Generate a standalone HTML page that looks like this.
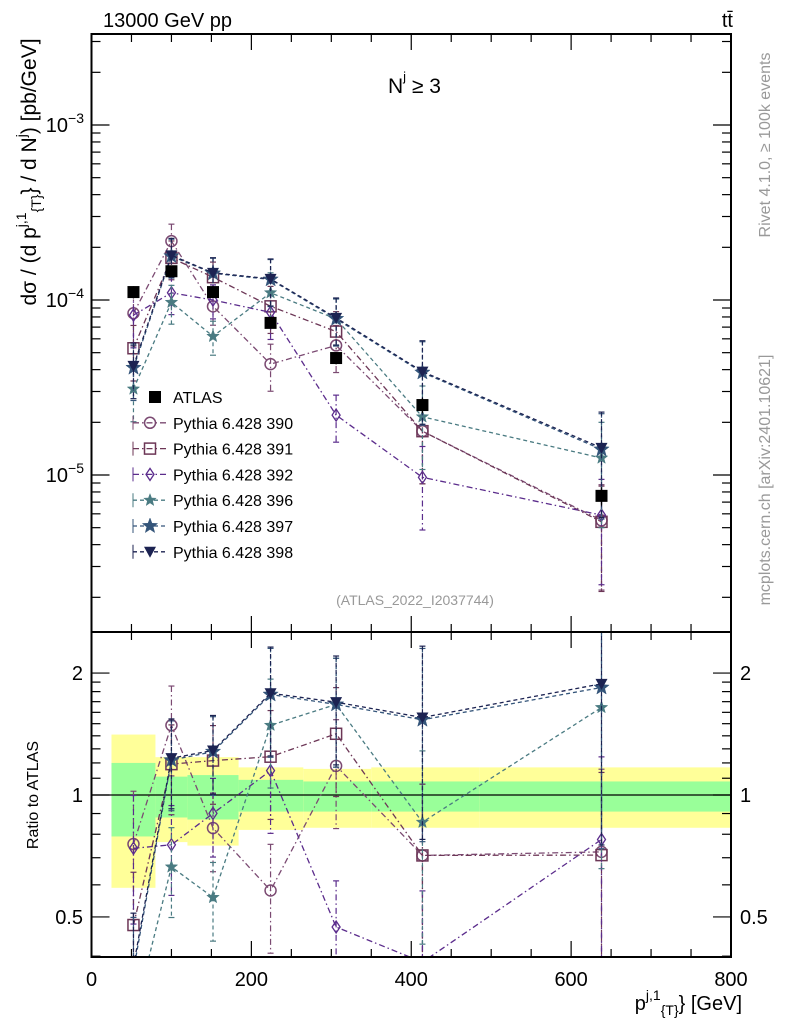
<!DOCTYPE html>
<html><head><meta charset="utf-8"><style>
html,body{margin:0;padding:0;background:#fff;width:786px;height:1024px;overflow:hidden}
svg{display:block;font-family:"Liberation Sans",sans-serif}
</style></head><body>
<svg id="c" width="786" height="1024" viewBox="0 0 786 1024" xmlns="http://www.w3.org/2000/svg"></svg>
<script>
const xCenters=[52.5,100,152,224,306,414,638];
const atlasVals=[1.11e-4,1.46e-4,1.11e-4,7.4e-5,4.66e-5,2.51e-5,7.6e-6];
const atlasErr=[0.08,0.06,0.06,0.07,0.08,0.1,0.12];
const s390=[8.4e-5,2.17e-4,9.2e-5,4.3e-5,5.5e-5,1.78e-5,5.5e-6];
const s391=[5.3e-5,1.74e-4,1.35e-4,9.2e-5,6.6e-5,1.78e-5,5.4e-6];
const s392=[8.2e-5,1.10e-4,1.0e-4,8.5e-5,2.2e-5,9.7e-6,5.9e-6];
const s396=[3.1e-5,9.7e-5,6.2e-5,1.10e-4,7.8e-5,2.15e-5,1.25e-5];
const s397=[4.1e-5,1.78e-4,1.42e-4,1.31e-4,7.8e-5,3.85e-5,1.4e-5];
const s398=[4.2e-5,1.8e-4,1.43e-4,1.32e-4,7.9e-5,3.9e-5,1.43e-5];
const mcErr=[0.35,0.25,0.22,0.3,0.3,0.5,0.6];
const bandEdges=[25,80,120,184,265,350,485,800];
const bandYelHi=[1.41,1.24,1.24,1.17,1.16,1.17,1.17];
const bandYelLo=[0.59,0.765,0.75,0.82,0.83,0.83,0.83];
const bandGrnHi=[1.2,1.11,1.12,1.09,1.08,1.08,1.08];
const bandGrnLo=[0.79,0.88,0.87,0.91,0.91,0.91,0.91];
const xTicks=[0,200,400,600,800];

const NS="http://www.w3.org/2000/svg";
const svg=document.getElementById('c');
const L=91.5,R=731,T=34,MB=632,RB=957;
const X=v=>L+(R-L)*v/800;
const Ym=v=>300-175*(Math.log10(v)+4);
const Yr=r=>795-405*Math.log10(r);
function mk(tag,attrs,parent){const e=document.createElementNS(NS,tag);for(const k in attrs)e.setAttribute(k,attrs[k]);(parent||svg).appendChild(e);return e;}
function txt(s,x,y,attrs,parent){const e=mk('text',Object.assign({x:x,y:y,'font-size':18,fill:'#000'},attrs),parent);e.textContent=s;return e;}

const defs=mk('defs',{});
const cp1=mk('clipPath',{id:'cm'},defs);mk('rect',{x:L,y:T,width:R-L,height:MB-T},cp1);
const cp2=mk('clipPath',{id:'cr'},defs);mk('rect',{x:L,y:MB,width:R-L,height:RB-MB},cp2);

const bands=mk('g',{'clip-path':'url(#cr)'});

for(let i=0;i<bandYelHi.length;i++){
  const x0=X(bandEdges[i]),x1=X(bandEdges[i+1]);
  const y=mk('rect',{x:x0,y:Yr(bandYelHi[i]),width:x1-x0,height:Yr(bandYelLo[i])-Yr(bandYelHi[i]),fill:'#ffff99'},bands);
  
  const g=mk('rect',{x:x0,y:Yr(bandGrnHi[i]),width:x1-x0,height:Yr(bandGrnLo[i])-Yr(bandGrnHi[i]),fill:'#99ff99'},bands);
  
}
mk('line',{x1:L,x2:R,y1:Yr(1),y2:Yr(1),stroke:'#000','stroke-width':1.2});

const series=[
 {name:'Pythia 6.428 390',vals:s390,col:'#7b4a72',dash:'6,3,1.5,3',m:'circle'},
 {name:'Pythia 6.428 391',vals:s391,col:'#6c3656',dash:'6,3,1.5,3',m:'square'},
 {name:'Pythia 6.428 392',vals:s392,col:'#5b2c8c',dash:'6,3,1.5,3',m:'diamond'},
 {name:'Pythia 6.428 396',vals:s396,col:'#4a7b82',dash:'4,3',m:'star'},
 {name:'Pythia 6.428 397',vals:s397,col:'#34557a',dash:'4,3',m:'staro'},
 {name:'Pythia 6.428 398',vals:s398,col:'#1c2352',dash:'4,3',m:'tri'}
];
function starPts(cx,cy,r){let p=[];for(let k=0;k<10;k++){const a=-Math.PI/2+k*Math.PI/5;const rr=k%2?r*0.42:r;p.push((cx+rr*Math.cos(a)).toFixed(1)+','+(cy+rr*Math.sin(a)).toFixed(1));}return p.join(' ');}
function marker(m,cx,cy,col,g){
  let e;
  if(m==='circle')e=mk('circle',{cx:cx,cy:cy,r:5.5,fill:'#fff','fill-opacity':0,stroke:col,'stroke-width':1.5},g);
  else if(m==='square')e=mk('rect',{x:cx-5.5,y:cy-5.5,width:11,height:11,fill:'none',stroke:col,'stroke-width':1.5},g);
  else if(m==='diamond')e=mk('polygon',{points:`${cx},${cy-6} ${cx+4},${cy} ${cx},${cy+6} ${cx-4},${cy}`,fill:'none',stroke:col,'stroke-width':1.3},g);
  else if(m==='star')e=mk('polygon',{points:starPts(cx,cy,6.5),fill:col,stroke:col,'stroke-width':0.5},g);
  else if(m==='staro')e=mk('polygon',{points:starPts(cx,cy,8),fill:col,stroke:col,'stroke-width':0.5},g);
  else if(m==='tri')e=mk('polygon',{points:`${cx-6},${cy-5} ${cx+6},${cy-5} ${cx},${cy+6}`,fill:col},g);
  else e=mk('rect',{x:cx-6,y:cy-6,width:12,height:12,fill:'#000'},g);
  return e;
}
function drawPanel(clip,yf,ratio){
  const g=mk('g',{'clip-path':'url('+clip+')'});
  
  series.forEach(s=>{
    const sg=mk('g',{},g);
    
    const vv=s.vals.map((v,i)=>ratio?v/atlasVals[i]:v);
    const pts=vv.map((v,i)=>X(xCenters[i]).toFixed(1)+','+yf(v).toFixed(1)).join(' ');
    mk('polyline',{points:pts,fill:'none',stroke:s.col,'stroke-width':1.3,'stroke-dasharray':s.dash},sg);
    vv.forEach((v,i)=>{
      const x=X(xCenters[i]);const e=mcErr[i];
      const y1=yf(v*(1+e)),y2=yf(Math.max(v*(1-e),1e-9));
      mk('line',{x1:x,x2:x,y1:y1,y2:y2,stroke:s.col,'stroke-width':1.2,'stroke-dasharray':s.dash},sg);
      mk('line',{x1:x-3,x2:x+3,y1:y1,y2:y1,stroke:s.col,'stroke-width':1.2},sg);
      mk('line',{x1:x-3,x2:x+3,y1:y2,y2:y2,stroke:s.col,'stroke-width':1.2},sg);
      const mm=marker(s.m,x,yf(v),s.col,sg);
      
    });
  });
  if(!ratio){
    const ag=mk('g',{},g);
    
    atlasVals.forEach((v,i)=>{
      const x=X(xCenters[i]);
      mk('line',{x1:x,x2:x,y1:yf(v*(1+atlasErr[i])),y2:yf(v*(1-atlasErr[i])),stroke:'#000','stroke-width':1.2},ag);
      const mm=marker('sq',x,yf(v),'#000',ag);
      
    });
  }
}
drawPanel('#cm',Ym,false);
drawPanel('#cr',Yr,true);

mk('rect',{x:L,y:T,width:R-L,height:MB-T,fill:'none',stroke:'#000','stroke-width':2});
mk('rect',{x:L,y:MB,width:R-L,height:RB-MB,fill:'none',stroke:'#000','stroke-width':2});

const tg=mk('g',{stroke:'#000','stroke-width':1.2});
for(let v=0;v<=800;v+=50){
  const x=X(v),maj=v%200===0,len=maj?16:8;
  [[T,1],[MB,-1],[MB,1],[RB,-1]].forEach(([y0,d])=>mk('line',{x1:x,x2:x,y1:y0,y2:y0+d*len},tg));
}
xTicks.forEach(v=>{const t=txt(String(v),X(v),986,{'font-size':20,'text-anchor':'middle'});});

for(let d=-6;d<=-3;d++){for(let m=1;m<10;m++){
  const v=m*Math.pow(10,d),y=Ym(v);if(y<T||y>MB)continue;
  const len=m===1?18:9;
  mk('line',{x1:L,x2:L+len,y1:y,y2:y},tg);mk('line',{x1:R,x2:R-len,y1:y,y2:y},tg);
}}
[[-3],[-4],[-5]].forEach(([d])=>{
  const y=Ym(Math.pow(10,d));
  const t=mk('text',{x:84,y:y+7,'font-size':20,'text-anchor':'end'});
  
  t.innerHTML='10<tspan dy="-9" font-size="14">&#8722;'+(-d)+'</tspan>';
});
[0.4,0.5,0.6,0.7,0.8,0.9,1,1.1,1.2,1.3,1.4,1.5,1.6,1.7,1.8,1.9,2].forEach(r=>{
  const y=Yr(r),maj=(r===0.5||r===1||r===2),len=maj?18:9;
  mk('line',{x1:L,x2:L+len,y1:y,y2:y},tg);mk('line',{x1:R,x2:R-len,y1:y,y2:y},tg);
});
[[2,'2'],[1,'1'],[0.5,'0.5']].forEach(([r,s])=>{
  const a=txt(s,83,Yr(r)+7,{'font-size':20,'text-anchor':'end'});
  const b=txt(s,740,Yr(r)+7,{'font-size':20});
});

const lg=mk('g',{});
const ly0=397,ldy=25.8;
marker('sq',155,ly0,'#000',lg);
txt('ATLAS',173,ly0+6,{'font-size':16},lg);
series.forEach((s,i)=>{
  const y=ly0+ldy*(i+1);
  mk('line',{x1:133,x2:167,y1:y,y2:y,stroke:s.col,'stroke-width':1.3,'stroke-dasharray':s.dash},lg);
  mk('line',{x1:133,x2:133,y1:y-7,y2:y+7,stroke:s.col,'stroke-width':1},lg);
  marker(s.m,150,y,s.col,lg);
  const t=txt(s.name,173,y+6,{'font-size':16},lg);
  
});

let t;
t=txt('13000 GeV pp',103,27,{'font-size':20});
t=txt('tt̄',733,27,{'font-size':20,'text-anchor':'end'});
t=mk('text',{x:388,y:93,'font-size':21});t.innerHTML='N<tspan dy="-12" font-size="13">j</tspan><tspan dy="12"> ≥ 3</tspan>';
t=txt('(ATLAS_2022_I2037744)',415,605,{'font-size':14,fill:'#999','text-anchor':'middle'});
t=mk('text',{x:0,y:0,'font-size':21,transform:'translate(36,172) rotate(-90)','text-anchor':'middle'});
t.innerHTML='dσ / (d p<tspan dy="-10" font-size="14">j,1</tspan><tspan dy="15" font-size="14">{T}</tspan><tspan dy="-5">} / d N</tspan><tspan dy="-10" font-size="14">j</tspan><tspan dy="10">) [pb/GeV]</tspan>';

t=txt('Ratio to ATLAS',0,0,{'font-size':16,transform:'translate(38,795) rotate(-90)','text-anchor':'middle'});
t=mk('text',{x:742,y:1010,'font-size':20,'text-anchor':'end'});
t.innerHTML='p<tspan dy="-10" font-size="14">j,1</tspan><tspan dy="15" font-size="14">{T}</tspan><tspan dy="-5">} [GeV]</tspan>';

t=txt('Rivet 4.1.0, ≥ 100k events',0,0,{'font-size':16,fill:'#999',transform:'translate(770,145) rotate(-90)','text-anchor':'middle'});
t=txt('mcplots.cern.ch [arXiv:2401.10621]',0,0,{'font-size':16,fill:'#999',transform:'translate(770,480) rotate(-90)','text-anchor':'middle'});
</script>
</body></html>
